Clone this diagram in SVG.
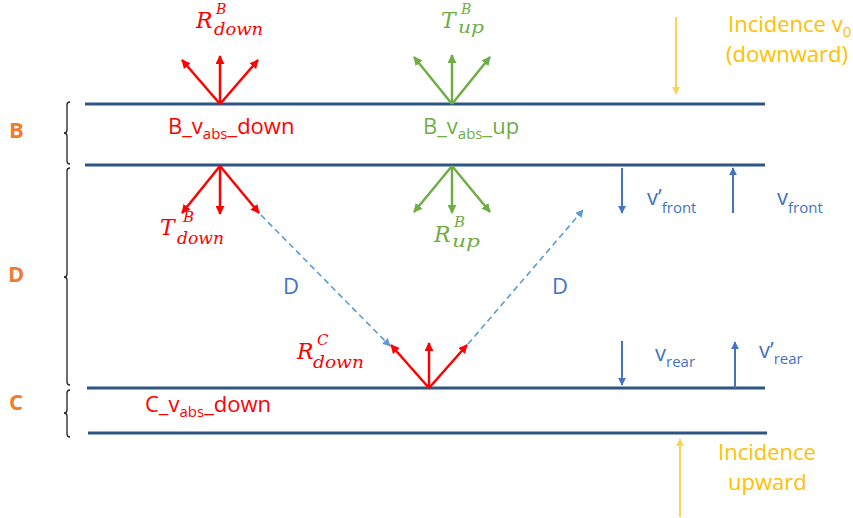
<svg xmlns="http://www.w3.org/2000/svg" width="853" height="518" viewBox="0 0 853 518">
<defs>
<style>
.ly{stroke:#2F5585;stroke-width:3;fill:none}
.br{stroke:#222;stroke-width:1.3;fill:none}
.red{stroke:#FF0000;stroke-width:2.5;fill:none}
.grn{stroke:#70AD47;stroke-width:2.5;fill:none}
.blu{stroke:#4472C4;stroke-width:2;fill:none}
.dash{stroke:#5B9BD5;stroke-width:1.6;stroke-dasharray:6 4;fill:none}
.yel{stroke:#FFD24F;stroke-width:2;fill:none}
.t{font-family:"Open Sans","Liberation Sans",sans-serif;font-size:22px}
.m{font-family:"DejaVu Serif","Liberation Serif",serif;font-style:italic}
.lab{font-family:"Open Sans","Liberation Sans",sans-serif;font-size:22px;font-weight:bold;fill:#ED7D31}
</style>
<marker id="ar" viewBox="0 0 10 10" refX="9" refY="5" markerWidth="9" markerHeight="9" markerUnits="userSpaceOnUse" orient="auto"><path d="M0,0 L10,5 L0,10 z" fill="#FF0000"/></marker>
<marker id="ag" viewBox="0 0 10 10" refX="9" refY="5" markerWidth="9" markerHeight="9" markerUnits="userSpaceOnUse" orient="auto"><path d="M0,0 L10,5 L0,10 z" fill="#70AD47"/></marker>
<marker id="ab" viewBox="0 0 10 10" refX="9" refY="5" markerWidth="8" markerHeight="8" markerUnits="userSpaceOnUse" orient="auto"><path d="M0,0 L10,5 L0,10 z" fill="#4472C4"/></marker>
<marker id="ad" viewBox="0 0 10 10" refX="9" refY="5" markerWidth="8" markerHeight="8" markerUnits="userSpaceOnUse" orient="auto"><path d="M0,0 L10,5 L0,10 z" fill="#5B9BD5"/></marker>
<marker id="ay" viewBox="0 0 10 10" refX="9" refY="5" markerWidth="8" markerHeight="8" markerUnits="userSpaceOnUse" orient="auto"><path d="M0,0 L10,5 L0,10 z" fill="#FFD24F"/></marker>
</defs>
<rect width="853" height="518" fill="#fff"/>

<g id="layers">
<line class="ly" x1="85" y1="104" x2="765" y2="104"/>
<line class="ly" x1="85" y1="165" x2="765" y2="165"/>
<line class="ly" x1="87" y1="388" x2="765" y2="388"/>
<line class="ly" x1="88" y1="433" x2="767" y2="433"/>
</g>

<g id="brackets">
<path class="br" d="M70,102 Q67,102 67,105 L67,130 Q67,133 64,133 Q67,133 67,136 L67,161 Q67,164 70,164"/>
<path class="br" d="M70,168 Q67,168 67,171 L67,274 Q67,277 64,277 Q67,277 67,280 L67,382 Q67,385 70,385"/>
<path class="br" d="M70,390 Q67,390 67,393 L67,410 Q67,413 64,413 Q67,413 67,416 L67,434 Q67,437 70,437"/>
</g>

<g id="label-B"><text class="lab" x="9" y="138">B</text></g>
<g id="label-D"><text class="lab" x="8" y="282">D</text></g>
<g id="label-C"><text class="lab" x="9" y="410">C</text></g>

<g id="connectors">
<line class="red" x1="220" y1="104" x2="182" y2="60" marker-end="url(#ar)"/>
<line class="red" x1="220" y1="104" x2="220" y2="56" marker-end="url(#ar)"/>
<line class="red" x1="220" y1="104" x2="258" y2="60" marker-end="url(#ar)"/>
<line class="grn" x1="452" y1="104" x2="414" y2="57" marker-end="url(#ag)"/>
<line class="grn" x1="452" y1="104" x2="452" y2="55" marker-end="url(#ag)"/>
<line class="grn" x1="452" y1="104" x2="490" y2="57" marker-end="url(#ag)"/>
<line class="red" x1="220" y1="166" x2="182" y2="213" marker-end="url(#ar)"/>
<line class="red" x1="220" y1="166" x2="220" y2="214" marker-end="url(#ar)"/>
<line class="red" x1="220" y1="166" x2="259" y2="213" marker-end="url(#ar)"/>
<line class="grn" x1="452" y1="166" x2="414" y2="212" marker-end="url(#ag)"/>
<line class="grn" x1="452" y1="166" x2="452" y2="213" marker-end="url(#ag)"/>
<line class="grn" x1="452" y1="166" x2="490" y2="212" marker-end="url(#ag)"/>
<line class="red" x1="429" y1="388" x2="391" y2="345" marker-end="url(#ar)"/>
<line class="red" x1="429" y1="388" x2="429" y2="343" marker-end="url(#ar)"/>
<line class="red" x1="429" y1="388" x2="467" y2="345" marker-end="url(#ar)"/>
<line class="dash" x1="261" y1="215" x2="390" y2="346" marker-end="url(#ad)"/>
<line class="dash" x1="468" y1="344" x2="583" y2="210" marker-end="url(#ad)"/>
<line class="blu" x1="622" y1="168" x2="622" y2="213" marker-end="url(#ab)"/>
<line class="blu" x1="733" y1="213" x2="733" y2="168" marker-end="url(#ab)"/>
<line class="blu" x1="622" y1="341" x2="622" y2="385" marker-end="url(#ab)"/>
<line class="blu" x1="735" y1="388" x2="735" y2="342" marker-end="url(#ab)"/>
<line class="yel" x1="676" y1="17" x2="676" y2="94" marker-end="url(#ay)"/>
<line class="yel" x1="680" y1="517" x2="680" y2="439" marker-end="url(#ay)"/>
</g>

<g id="R-B-down" class="m" fill="#FF0000">
<text x="196" y="28" font-size="22">R</text>
<text x="216" y="14" font-size="14">B</text>
<text x="214" y="35" font-size="16" textLength="49" lengthAdjust="spacingAndGlyphs">down</text>
</g>
<g id="T-B-up" class="m" fill="#70AD47">
<text x="441" y="28" font-size="22">T</text>
<text x="461" y="14" font-size="14">B</text>
<text x="458" y="33" font-size="16" textLength="26" lengthAdjust="spacingAndGlyphs">up</text>
</g>
<g id="T-B-down" class="m" fill="#FF0000">
<text x="160" y="235" font-size="22">T</text>
<text x="183" y="222" font-size="15">B</text>
<text x="177" y="244" font-size="17" textLength="47" lengthAdjust="spacingAndGlyphs">down</text>
</g>
<g id="R-B-up" class="m" fill="#70AD47">
<text x="434" y="242" font-size="22">R</text>
<text x="454" y="227" font-size="15">B</text>
<text x="452" y="247" font-size="17" textLength="28" lengthAdjust="spacingAndGlyphs">up</text>
</g>
<g id="R-C-down" class="m" fill="#FF0000">
<text x="297" y="359" font-size="22">R</text>
<text x="317" y="345" font-size="15">C</text>
<text x="313" y="368" font-size="17" textLength="51" lengthAdjust="spacingAndGlyphs">down</text>
</g>

<g id="B-vabs-down"><text class="t" x="168" y="134" fill="#FF0000">B_v<tspan font-size="15" dy="5">abs</tspan><tspan dy="-5">_down</tspan></text></g>
<g id="B-vabs-up"><text class="t" x="423" y="134" fill="#70AD47">B_v<tspan font-size="15" dy="5">abs</tspan><tspan dy="-5">_up</tspan></text></g>
<g id="C-vabs-down"><text class="t" x="145" y="412" fill="#FF0000">C_v<tspan font-size="15" dy="5">abs</tspan><tspan dy="-5">_down</tspan></text></g>

<g id="D-left"><text class="t" x="283" y="294" fill="#4472C4">D</text></g>
<g id="D-right"><text class="t" x="552" y="294" fill="#4472C4">D</text></g>

<g id="v-front-prime"><text class="t" x="647" y="205" fill="#4472C4">v’<tspan font-size="15" dy="8">front</tspan></text></g>
<g id="v-front"><text class="t" x="777" y="205" fill="#4472C4">v<tspan font-size="15" dy="8">front</tspan></text></g>
<g id="v-rear"><text class="t" x="655" y="361" fill="#4472C4">v<tspan font-size="15" dy="6">rear</tspan></text></g>
<g id="v-rear-prime"><text class="t" x="759" y="358" fill="#4472C4">v’<tspan font-size="15" dy="6">rear</tspan></text></g>

<g id="incidence-down" class="t" fill="#FFC000">
<text x="728" y="32">Incidence v<tspan font-size="15" dy="5">0</tspan></text>
<text x="726" y="62">(downward)</text>
</g>
<g id="incidence-up" class="t" fill="#FFC000">
<text x="718" y="460">Incidence</text>
<text x="728" y="490">upward</text>
</g>
</svg>
